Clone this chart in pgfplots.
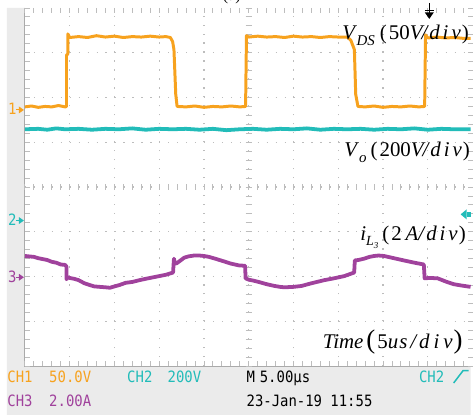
\documentclass[border=0pt]{standalone}
\usepackage{pgfplots}
\pgfplotsset{compat=1.18}
\usepackage{fontspec}
\setmainfont{Liberation Serif}
\newfontfamily\scopefont{DejaVu Sans Mono}
\definecolor{chA}{HTML}{F7A21E}
\definecolor{chB}{HTML}{22BCB9}
\definecolor{chC}{HTML}{A0429C}
\definecolor{panel}{HTML}{EBEBEB}
\definecolor{gridc}{HTML}{BDBDBD}
\newcommand{\sfont}{\scopefont\fontsize{14}{14}\selectfont}
\newcommand{\stxt}[1]{\scalebox{1}[1.12]{\sfont #1}}
\begin{document}
\begin{tikzpicture}
% pixel frame: (px,py) of the reference image
\begin{scope}[shift={(-25pt,368pt)},x=1pt,y=-1pt]
\path (0,0) rectangle (473,417);
\fill[panel] (7,8) -- (25,8) -- (25,368) -- (473,368) -- (473,417) -- (7,417) -- cycle;
\draw[gridc!90!black, line width=0.8pt] (25,8) -- (25,368) -- (473,368);
\begin{scope}[gridc, line width=0.9pt]
\foreach \k in {0,...,49} {
  \draw (25+9*\k,8) -- ++(0,5);
  \draw (25+9*\k,368) -- ++(0,-5);
  \draw (25+9*\k,185) -- ++(0,6);
}
\foreach \k in {0,...,40} {
  \draw (25,8+9*\k) -- ++(5,0);
  \draw (475,8+9*\k) -- ++(-5,0);
  \draw (247,8+9*\k) -- ++(6,0);
}
\end{scope}
\end{scope}
\begin{axis}[
  x=45pt, y=45pt,
  xmin=0, xmax=9.956, ymin=0, ymax=8,
  axis line style={draw=none},
  xtick={1,...,9}, ytick={1,...,7},
  xticklabels={}, yticklabels={},
  major tick length=0pt,
  grid=major,
  major grid style={gridc, line width=1.3pt, dash pattern=on 1.3pt off 7.7pt},
  clip=false,
]
% CH2 (teal)
\addplot[chB, line width=3.8pt, line join=round] coordinates {
(0,5.29) (0.3,5.30) (0.5,5.28) (0.7,5.31) (0.9,5.29) (1.2,5.30) (1.5,5.28) (1.8,5.30)
(2.1,5.29) (2.4,5.31) (2.7,5.28) (3.0,5.30) (3.3,5.29) (3.6,5.30) (3.9,5.28) (4.2,5.30)
(4.5,5.27) (4.8,5.29) (5.1,5.30) (5.4,5.28) (5.7,5.30) (6.0,5.29) (6.3,5.31) (6.6,5.28)
(6.9,5.30) (7.2,5.29) (7.5,5.30) (7.8,5.28) (8.1,5.30) (8.4,5.29) (8.7,5.31) (9.0,5.28)
(9.3,5.30) (9.6,5.29) (9.956,5.29)
};
% CH1 (orange)
\addplot[chA, line width=3pt, line join=round] coordinates {
(0,5.79) (0.15,5.81) (0.3,5.78) (0.45,5.80) (0.6,5.79) (0.75,5.82) (0.9,5.79) (0.93,5.80)
(0.93,6.95) (0.96,6.97) (0.96,7.42) (1.0,7.34) (1.2,7.36) (1.4,7.34) (1.6,7.38) (1.8,7.35)
(2.0,7.37) (2.2,7.34) (2.4,7.36) (2.6,7.35) (2.8,7.37) (3.0,7.35) (3.15,7.36) (3.25,7.34)
(3.30,7.25) (3.33,7.07) (3.37,6.07) (3.40,5.80) (3.6,5.79) (3.8,5.81) (4.0,5.78) (4.2,5.80)
(4.4,5.79) (4.6,5.81) (4.8,5.79) (4.93,5.80) (4.95,7.38) (5.0,7.35) (5.2,7.37) (5.4,7.35)
(5.6,7.36) (5.8,7.34) (6.0,7.37) (6.2,7.35) (6.4,7.36) (6.6,7.34) (6.8,7.36) (7.0,7.35)
(7.2,7.35) (7.28,7.28) (7.36,7.07) (7.39,6.07) (7.44,5.80) (7.6,5.79) (7.8,5.81) (8.0,5.78)
(8.2,5.80) (8.4,5.79) (8.6,5.81) (8.8,5.79) (8.93,5.80) (8.95,7.40) (9.0,7.33) (9.2,7.35)
(9.4,7.33) (9.6,7.34) (9.8,7.32) (9.956,7.32)
};
% CH3 (purple)
\addplot[chC, line width=3.8pt, line join=round] coordinates {
(0,2.46) (0.1,2.45) (0.2,2.44) (0.3,2.41) (0.4,2.39) (0.5,2.37) (0.6,2.33) (0.7,2.31)
(0.8,2.27) (0.9,2.26) (0.93,2.22) (0.93,1.94) (0.96,1.98) (1.0,1.97) (1.1,1.95) (1.2,1.92)
(1.33,1.85) (1.45,1.81) (1.55,1.78) (1.67,1.77) (1.8,1.76) (1.9,1.75) (2.0,1.78) (2.11,1.81)
(2.25,1.86) (2.4,1.88) (2.56,1.92) (2.7,1.95) (2.85,1.98) (3.0,2.01) (3.15,2.04) (3.31,2.09)
(3.33,2.40) (3.35,2.30) (3.38,2.29) (3.45,2.34) (3.556,2.42) (3.65,2.45) (3.778,2.47) (3.9,2.47)
(4.0,2.46) (4.111,2.44) (4.25,2.40) (4.444,2.34) (4.6,2.29) (4.778,2.25) (4.92,2.24) (4.93,1.96)
(5.0,1.93) (5.1,1.91) (5.222,1.88) (5.4,1.83) (5.578,1.79) (5.7,1.77) (5.8,1.76) (6.0,1.77)
(6.178,1.79) (6.4,1.85) (6.689,1.92) (6.9,1.96) (7.133,2.01) (7.356,2.09) (7.37,2.36) (7.45,2.37)
(7.578,2.40) (7.7,2.44) (7.8,2.46) (7.9,2.47) (8.022,2.46) (8.2,2.42) (8.467,2.36) (8.7,2.31)
(8.911,2.27) (8.93,1.96) (9.05,1.97) (9.222,1.96) (9.4,1.89) (9.578,1.83) (9.75,1.80) (9.956,1.77)
};
\end{axis}
\begin{scope}[shift={(-25pt,368pt)},x=1pt,y=-1pt]
% partial caption at the very top
\node[overlay, anchor=base, font=\fontsize{16}{16}\selectfont] at (233,1) {(a)};
% trigger position marker
\draw[black, line width=1.2pt] (431.5,3) -- (431.5,14);
\draw[black, line width=1.2pt] (427,10.5) -- (436,10.5);
\fill[black] (427,12.5) -- (436,12.5) -- (431.5,19) -- cycle;
% trigger level marker
\fill[chB] (463,215.5) -- (469,210.5) -- (469,220.5) -- cycle;
\fill[chB] (469,213) rectangle (473,218);
% channel ground markers
\node[anchor=base west, inner sep=0pt, chA] at (8,115.5) {\stxt{1}};
\fill[chA] (19,107) -- (19,114) -- (24,110.5) -- cycle;
\draw[chA, line width=1pt] (16,110.5) -- (19,110.5);
\node[anchor=base west, inner sep=0pt, chB] at (8,227) {\stxt{2}};
\fill[chB] (19,218.2) -- (19,225.2) -- (24,221.7) -- cycle;
\draw[chB, line width=1pt] (16,221.7) -- (19,221.7);
\node[anchor=base west, inner sep=0pt, chC] at (8,284) {\stxt{3}};
\fill[chC] (19,275.2) -- (19,282.2) -- (24,278.7) -- cycle;
\draw[chC, line width=1pt] (16,278.7) -- (19,278.7);
% trace labels
\node[anchor=base west, inner sep=0pt, font=\fontsize{21}{21}\selectfont] at (344,39.5)
  {\textit{V}\kern-0.5pt\raisebox{-6pt}{\fontsize{15}{15}\selectfont\itshape DS}\kern5pt(\kern2pt50\textit{V\kern-1pt/\kern2pt d\kern3pt i\kern3pt v}\kern1pt)};
\node[anchor=base west, inner sep=0pt, font=\fontsize{21}{21}\selectfont] at (346,157)
  {\textit{V}\raisebox{-6pt}{\fontsize{15}{15}\selectfont\itshape o}\kern4pt(\kern2pt200\textit{V\kern-1pt/\kern2pt d\kern3pt i\kern3pt v}\kern1pt)};
\node[anchor=base west, inner sep=0pt, font=\fontsize{21}{21}\selectfont] at (362,241.7)
  {\textit{i}\raisebox{-5pt}{\fontsize{14}{14}\selectfont\itshape L\raisebox{-3pt}{\fontsize{9}{9}\selectfont 3}}\kern4pt(\kern2pt2\kern4pt\textit{A/\kern2pt d\kern3pt i\kern3pt v}\kern1pt)};
\node[anchor=base west, inner sep=0pt, font=\fontsize{21}{21}\selectfont] at (324.3,350.7)
  {\textit{Time}\kern3pt{\fontsize{27}{27}\selectfont(}\kern2pt5\textit{u\kern1pt s\kern3pt/\kern3pt d\kern4pt i\kern4pt v}\kern1pt{\fontsize{27}{27}\selectfont)}};
% status bar
\node[anchor=base west, inner sep=0pt, chA] at (7.3,384.3) {\stxt{CH1}};
\node[anchor=base west, inner sep=0pt, chA] at (49.3,384.3) {\stxt{50.0V}};
\node[anchor=base west, inner sep=0pt, chB] at (127.7,384.3) {\stxt{CH2}};
\node[anchor=base west, inner sep=0pt, chB] at (168.3,384.3) {\stxt{200V}};
\node[anchor=base west, inner sep=0pt, black] at (247.7,384.3) {\stxt{M}};
\node[anchor=base west, inner sep=0pt, black] at (261,384.3) {\stxt{5.00µs}};
\node[anchor=base west, inner sep=0pt, chB] at (421,384.3) {\stxt{CH2}};
\draw[chB, line width=1.5pt] (456,385) -- (465.5,372.5) -- (471,372.5);
\node[anchor=base west, inner sep=0pt, chC] at (7.3,408.3) {\stxt{CH3}};
\node[anchor=base west, inner sep=0pt, chC] at (49.3,408.3) {\stxt{2.00A}};
\node[anchor=base west, inner sep=0pt, black] at (247.7,408.3) {\stxt{23-Jan-19 11:55}};
\end{scope}
\end{tikzpicture}
\end{document}
